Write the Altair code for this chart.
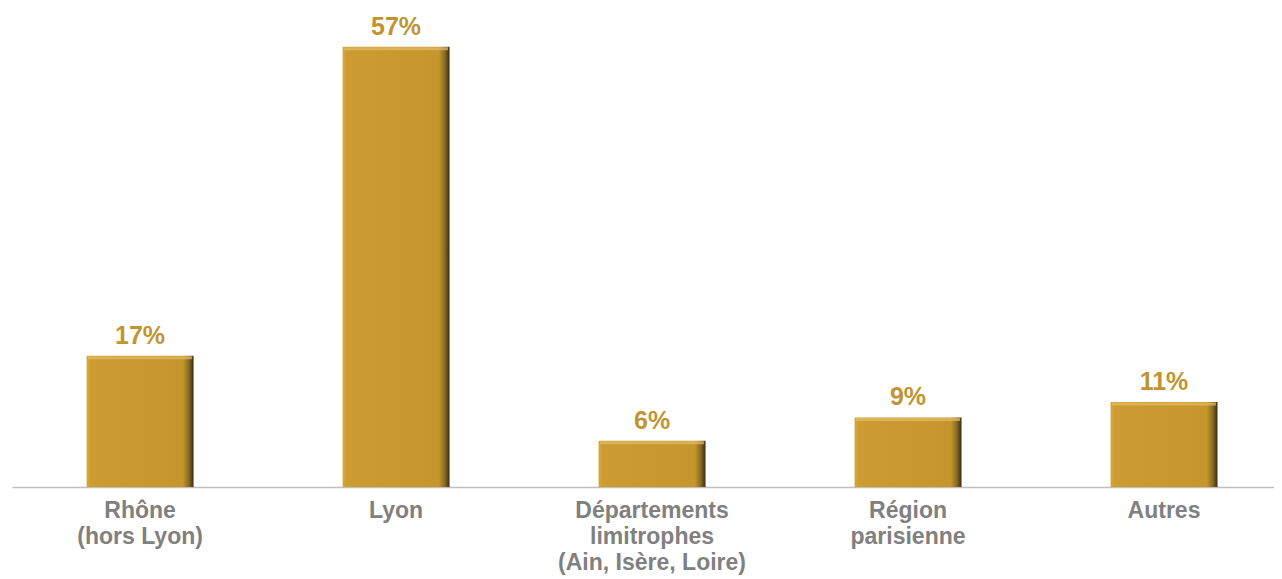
import altair as alt
import pandas as pd

categories = ["Rhône\n(hors Lyon)", "Lyon", "Départements\nlimitrophes\n(Ain, Isère, Loire)", "Région\nparisienne", "Autres"]
values = [17, 57, 6, 9, 11]
value_labels = ["17%", "57%", "6%", "9%", "11%"]

df = pd.DataFrame({"cat": categories, "val": values, "lab": value_labels})

x_enc = alt.X("cat:N", sort=categories,
              scale=alt.Scale(paddingInner=0.582, paddingOuter=0.256, align=0.569),
              axis=alt.Axis(title=None, labelAngle=0, labelExpr="split(datum.label, '\\n')",
                            labelFont="Liberation Sans", labelFontWeight="bold", labelFontSize=23,
                            labelColor="#808080", labelLineHeight=26, labelPadding=12, labelLimit=400,
                            labelBaseline="top", ticks=False, domainColor="#BFBFBF", domainWidth=1.5,
                            grid=False))
y_enc = alt.Y("val:Q", scale=alt.Scale(domain=[0, 62], nice=False), axis=None)

grad = alt.Gradient(gradient="linear", x1=0, x2=1, y1=0, y2=0,
                    stops=[alt.GradientStop(offset=0, color="#D9A93E"),
                           alt.GradientStop(offset=0.04, color="#CC9B31"),
                           alt.GradientStop(offset=0.9, color="#C6952C"),
                           alt.GradientStop(offset=0.955, color="#8A6A24"),
                           alt.GradientStop(offset=1, color="#3A2D16")])

base = alt.Chart(df)
bars = base.mark_bar(color=grad).encode(x=x_enc, y=y_enc)
top = base.mark_tick(color="#E3BE68", thickness=3, size=104, yOffset=2).encode(x=x_enc, y=y_enc)
text = base.mark_text(dy=-12, baseline="alphabetic", fontSize=25, fontWeight="bold",
                      color="#BF9532", font="Liberation Sans").encode(x=x_enc, y=y_enc, text="lab:N")

chart = alt.layer(bars, top, text).properties(
    width=1262, height=479,
    autosize=alt.AutoSizeParams(type="none"),
    padding={"left": 4, "top": 0, "right": 0, "bottom": 92},
).configure(background="white").configure_view(stroke=None)

chart.save("out.html", embed_options={"renderer": "svg", "actions": False})
